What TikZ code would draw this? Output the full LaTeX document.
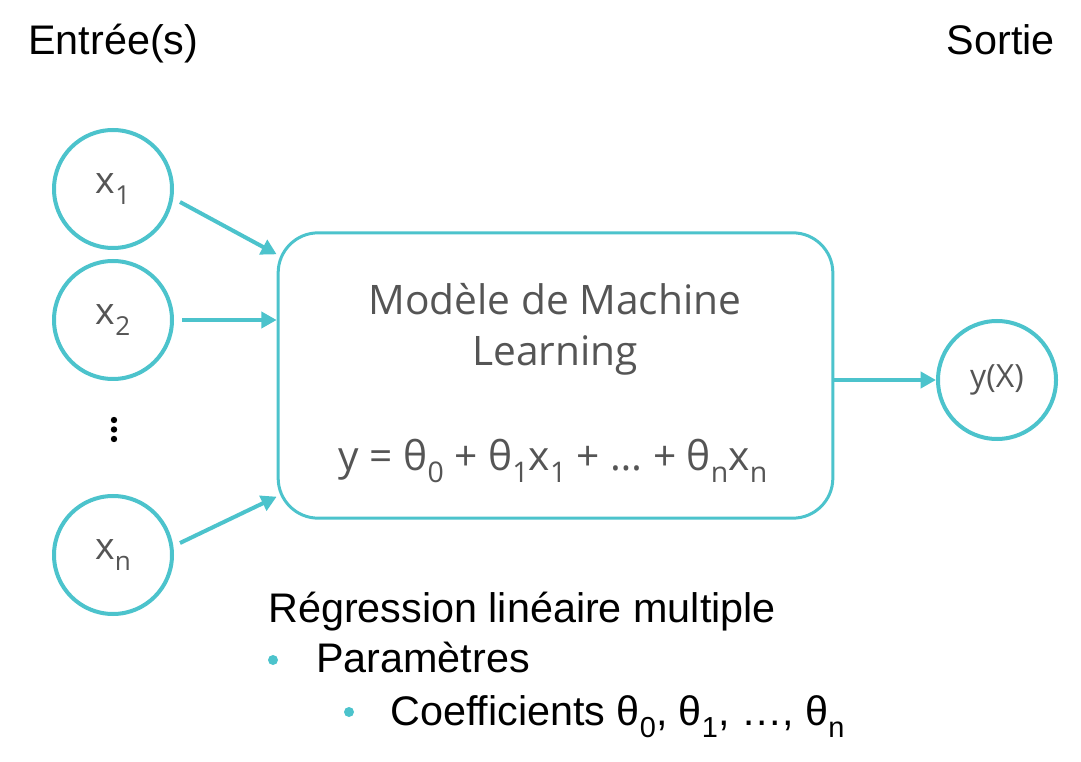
\documentclass[tikz,border=0pt]{standalone}
\usepackage{fontspec}
\setmainfont{Liberation Sans}
\newfontfamily\osans{Open Sans}
\usetikzlibrary{arrows.meta,calc}
\definecolor{cyanline}{HTML}{4CC3CC}
\definecolor{txtgray}{HTML}{555555}
\newcommand\lowsub[1]{\raisebox{-0.3em}{\scalebox{0.7}{#1}}}
\tikzset{
  innode/.style={circle,draw=cyanline,line width=3pt,minimum size=88.5pt,inner sep=0pt,
    font=\osans\fontsize{28}{32}\selectfont,text=txtgray},
  outnode/.style={circle,draw=cyanline,line width=3pt,minimum size=88.5pt,inner sep=0pt,
    font=\osans\fontsize{24}{28}\selectfont,text=txtgray},
  modelbox/.style={rectangle,draw=cyanline,line width=2.25pt,rounded corners=30pt,
    minimum width=416pt,minimum height=214pt,inner sep=0pt},
  arr/.style={draw=cyanline,line width=3pt,-{Triangle[length=11.5pt,width=12pt]}},
  boxtext/.style={font=\osans\fontsize{30.5}{39}\selectfont,text=txtgray,align=center,anchor=base},
  bigtext/.style={font=\fontsize{31}{36}\selectfont,anchor=base west,inner sep=0pt},
  bulletdot/.style={circle,fill=cyanline,inner sep=0pt,minimum size=7.5pt},
  vdot/.style={circle,fill=black,inner sep=0pt,minimum size=4.8pt},
}
\begin{document}
\begin{tikzpicture}[x=0.75pt,y=-0.75pt]
\useasboundingbox (0,0) rectangle (1081,762);
% titles
\node[bigtext] (tin) at (28,55) {Entrée(s)};
\node[bigtext,anchor=base east] (tout) at (1055,55) {Sortie};
% input nodes
\node[innode] (x1) at (113,189) {x\lowsub{1}};
\node[innode] (x2) at (113,320) {x\lowsub{2}};
\node[vdot] (d1) at (114,420) {};
\node[vdot] (d2) at (114,429.5) {};
\node[vdot] (d3) at (114,439) {};
\node[innode] (xn) at (113,555) {x\lowsub{n}};
% model box
\node[modelbox] (box) at (555.5,375.5) {};
\node[boxtext] (t1) at (555,315) {Modèle de Machine};
\node[boxtext] (t2) at (555,366) {Learning};
\node[boxtext] (eq) at (553,470) {y = θ\lowsub{0} + θ\lowsub{1}x\lowsub{1} + … + θ\lowsub{n}x\lowsub{n}};
% output node
\node[outnode] (yx) at (997,380) {y(X)};
% connectors
\draw[arr] ($(x1)+(67,13)$) -- ($(box.north west)+(0,23)$);
\draw[arr] ($(x2.east)+(8,0)$) -- (box.west |- x2);
\draw[arr] ($(xn)+(67,-12)$) -- ($(box.south west)+(0,-23)$);
\draw[arr] (box.east |- yx) -- (yx.west);
% bottom text
\node[bigtext] (reg) at (268,622) {Régression linéaire multiple};
\node[bulletdot] (b1) at (273,660) {};
\node[bigtext] (par) at (316,672) {Paramètres};
\node[bulletdot] (b2) at (349,712) {};
\node[bigtext] (coef) at (390,725) {Coefficients θ\lowsub{0}, θ\lowsub{1}, …, θ\lowsub{n}};
\end{tikzpicture}
\end{document}
